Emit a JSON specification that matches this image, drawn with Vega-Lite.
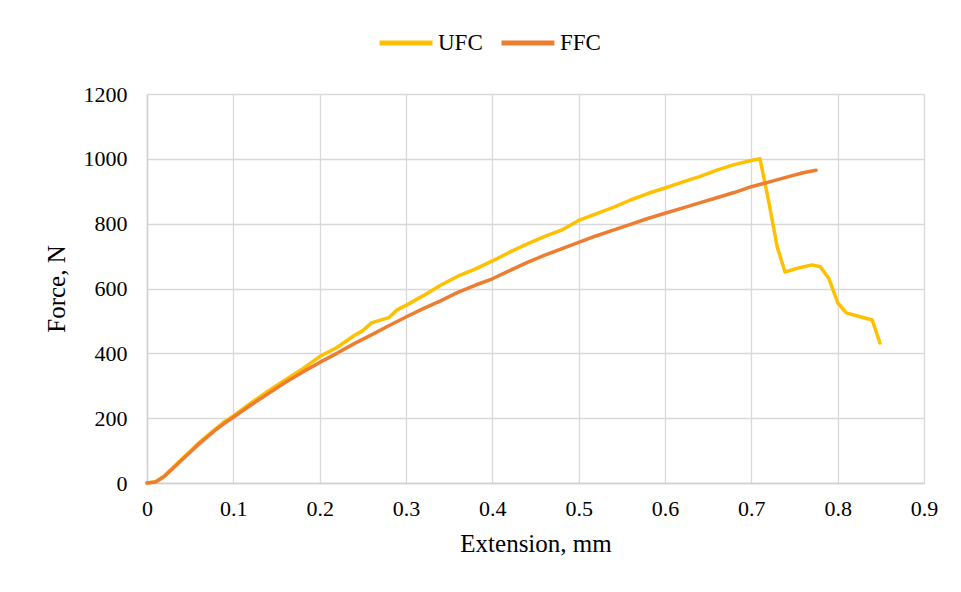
{
  "$schema": "https://vega.github.io/schema/vega-lite/v6.json",
  "width": 777,
  "height": 389,
  "autosize": {"type": "none"},
  "padding": {"left": 147, "top": 94, "right": 37, "bottom": 109},
  "background": "white",
  "config": {
    "font": "Liberation Serif",
    "view": {"stroke": null},
    "axis": {
      "labelFont": "Liberation Serif",
      "titleFont": "Liberation Serif",
      "labelFontSize": 22,
      "titleFontSize": 25,
      "labelColor": "#000000",
      "titleColor": "#000000",
      "titleFontWeight": "normal",
      "gridColor": "#d9d9d9",
      "gridWidth": 1.3,
      "domainColor": "#d0d0d0",
      "domainWidth": 1.5,
      "ticks": false,
      "labelFlush": false
    },
    "legend": {
      "labelFont": "Liberation Serif",
      "labelFontSize": 23,
      "labelColor": "#000000"
    }
  },
  "data": {
    "values": [
      {"s": "UFC", "x": 0, "y": 0},
      {"s": "UFC", "x": 0.01, "y": 4},
      {"s": "UFC", "x": 0.02, "y": 22},
      {"s": "UFC", "x": 0.03, "y": 48},
      {"s": "UFC", "x": 0.04, "y": 73},
      {"s": "UFC", "x": 0.05, "y": 98},
      {"s": "UFC", "x": 0.06, "y": 124},
      {"s": "UFC", "x": 0.07, "y": 146},
      {"s": "UFC", "x": 0.08, "y": 168},
      {"s": "UFC", "x": 0.09, "y": 190},
      {"s": "UFC", "x": 0.1, "y": 207},
      {"s": "UFC", "x": 0.12, "y": 246},
      {"s": "UFC", "x": 0.14, "y": 283},
      {"s": "UFC", "x": 0.16, "y": 318},
      {"s": "UFC", "x": 0.18, "y": 352},
      {"s": "UFC", "x": 0.2, "y": 390},
      {"s": "UFC", "x": 0.22, "y": 418},
      {"s": "UFC", "x": 0.24, "y": 455},
      {"s": "UFC", "x": 0.25, "y": 470},
      {"s": "UFC", "x": 0.26, "y": 494},
      {"s": "UFC", "x": 0.28, "y": 510},
      {"s": "UFC", "x": 0.29, "y": 535},
      {"s": "UFC", "x": 0.3, "y": 548},
      {"s": "UFC", "x": 0.32, "y": 578},
      {"s": "UFC", "x": 0.34, "y": 610},
      {"s": "UFC", "x": 0.36, "y": 638},
      {"s": "UFC", "x": 0.38, "y": 660},
      {"s": "UFC", "x": 0.4, "y": 685},
      {"s": "UFC", "x": 0.42, "y": 712},
      {"s": "UFC", "x": 0.44, "y": 737},
      {"s": "UFC", "x": 0.46, "y": 760},
      {"s": "UFC", "x": 0.48, "y": 780},
      {"s": "UFC", "x": 0.5, "y": 810},
      {"s": "UFC", "x": 0.52, "y": 830},
      {"s": "UFC", "x": 0.54, "y": 850},
      {"s": "UFC", "x": 0.56, "y": 873},
      {"s": "UFC", "x": 0.58, "y": 893},
      {"s": "UFC", "x": 0.6, "y": 910},
      {"s": "UFC", "x": 0.62, "y": 928},
      {"s": "UFC", "x": 0.64, "y": 945},
      {"s": "UFC", "x": 0.66, "y": 965},
      {"s": "UFC", "x": 0.68, "y": 982},
      {"s": "UFC", "x": 0.7, "y": 995},
      {"s": "UFC", "x": 0.71, "y": 1000},
      {"s": "UFC", "x": 0.72, "y": 870},
      {"s": "UFC", "x": 0.73, "y": 728},
      {"s": "UFC", "x": 0.739, "y": 651},
      {"s": "UFC", "x": 0.75, "y": 660},
      {"s": "UFC", "x": 0.77, "y": 673},
      {"s": "UFC", "x": 0.78, "y": 667},
      {"s": "UFC", "x": 0.79, "y": 630},
      {"s": "UFC", "x": 0.8, "y": 556},
      {"s": "UFC", "x": 0.81, "y": 525},
      {"s": "UFC", "x": 0.826, "y": 513},
      {"s": "UFC", "x": 0.84, "y": 503},
      {"s": "UFC", "x": 0.849, "y": 432},
      {"s": "FFC", "x": 0, "y": 0},
      {"s": "FFC", "x": 0.01, "y": 3},
      {"s": "FFC", "x": 0.02, "y": 20},
      {"s": "FFC", "x": 0.03, "y": 45},
      {"s": "FFC", "x": 0.04, "y": 70},
      {"s": "FFC", "x": 0.05, "y": 95},
      {"s": "FFC", "x": 0.06, "y": 120},
      {"s": "FFC", "x": 0.07, "y": 142},
      {"s": "FFC", "x": 0.08, "y": 165},
      {"s": "FFC", "x": 0.09, "y": 185},
      {"s": "FFC", "x": 0.1, "y": 203},
      {"s": "FFC", "x": 0.12, "y": 240},
      {"s": "FFC", "x": 0.14, "y": 275},
      {"s": "FFC", "x": 0.16, "y": 310},
      {"s": "FFC", "x": 0.18, "y": 342},
      {"s": "FFC", "x": 0.2, "y": 372},
      {"s": "FFC", "x": 0.22, "y": 400},
      {"s": "FFC", "x": 0.24, "y": 430},
      {"s": "FFC", "x": 0.26, "y": 457},
      {"s": "FFC", "x": 0.28, "y": 485},
      {"s": "FFC", "x": 0.3, "y": 512},
      {"s": "FFC", "x": 0.32, "y": 538},
      {"s": "FFC", "x": 0.34, "y": 562},
      {"s": "FFC", "x": 0.36, "y": 588},
      {"s": "FFC", "x": 0.38, "y": 610},
      {"s": "FFC", "x": 0.4, "y": 630},
      {"s": "FFC", "x": 0.42, "y": 655},
      {"s": "FFC", "x": 0.44, "y": 680},
      {"s": "FFC", "x": 0.46, "y": 702},
      {"s": "FFC", "x": 0.48, "y": 722},
      {"s": "FFC", "x": 0.5, "y": 742},
      {"s": "FFC", "x": 0.52, "y": 762},
      {"s": "FFC", "x": 0.54, "y": 780},
      {"s": "FFC", "x": 0.56, "y": 798},
      {"s": "FFC", "x": 0.58, "y": 816},
      {"s": "FFC", "x": 0.6, "y": 832},
      {"s": "FFC", "x": 0.62, "y": 848},
      {"s": "FFC", "x": 0.64, "y": 864},
      {"s": "FFC", "x": 0.66, "y": 880},
      {"s": "FFC", "x": 0.68, "y": 896},
      {"s": "FFC", "x": 0.7, "y": 914},
      {"s": "FFC", "x": 0.72, "y": 928},
      {"s": "FFC", "x": 0.74, "y": 943},
      {"s": "FFC", "x": 0.76, "y": 957},
      {"s": "FFC", "x": 0.775, "y": 965}
    ]
  },
  "mark": {"type": "line", "strokeWidth": 3.5, "strokeJoin": "round", "strokeCap": "round"},
  "encoding": {
    "x": {
      "field": "x",
      "type": "quantitative",
      "scale": {"domain": [0, 0.9], "nice": false},
      "axis": {
        "title": "Extension, mm",
        "values": [0, 0.1, 0.2, 0.3, 0.4, 0.5, 0.6, 0.7, 0.8, 0.9],
        "format": "~g",
        "labelPadding": 15,
        "titlePadding": 12
      }
    },
    "y": {
      "field": "y",
      "type": "quantitative",
      "scale": {"domain": [0, 1200], "nice": false},
      "axis": {
        "title": "Force, N",
        "values": [0, 200, 400, 600, 800, 1000, 1200],
        "format": "d",
        "labelPadding": 20,
        "titlePadding": 14
      }
    },
    "color": {
      "field": "s",
      "type": "nominal",
      "scale": {"domain": ["UFC", "FFC"], "range": ["#FFC000", "#ED7D31"]},
      "legend": {
        "title": null,
        "orient": "none",
        "direction": "horizontal",
        "legendX": 230,
        "legendY": -80,
        "symbolType": "stroke",
        "symbolStrokeWidth": 5,
        "symbolSize": 2800,
        "labelOffset": 3,
        "columnPadding": 8
      }
    }
  }
}
